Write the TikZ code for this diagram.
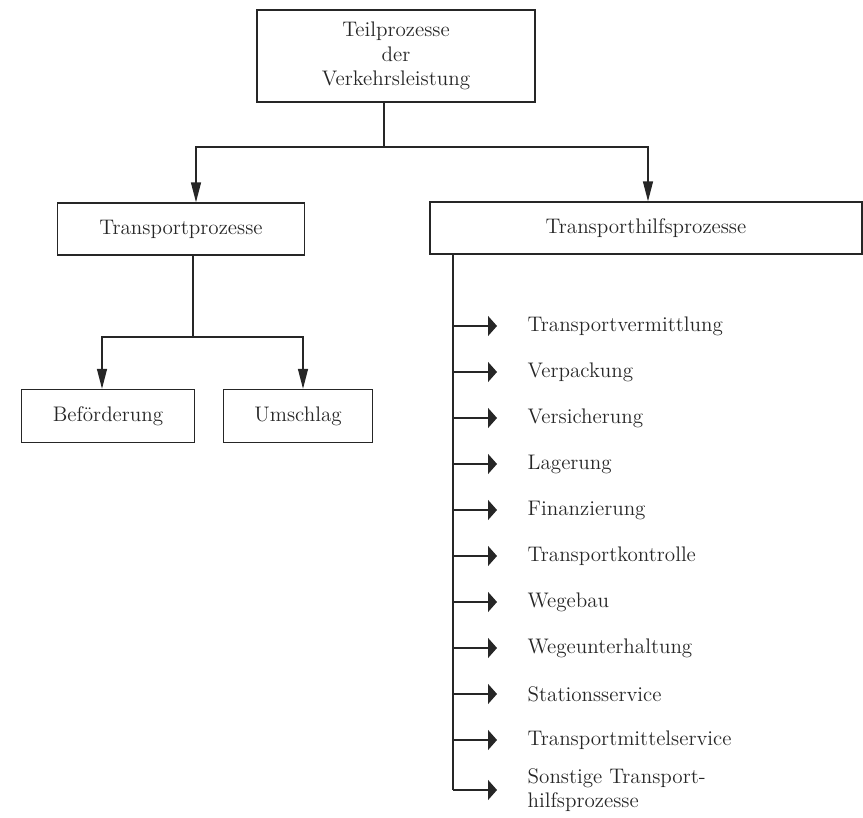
\documentclass[tikz,border=0pt]{standalone}
\usepackage{tikz}
\usetikzlibrary{positioning, arrows.meta, calc}

\begin{document}
\begin{tikzpicture}[x=0.02cm, y=-0.02cm, font=\large, line width=0.8pt, draw=black!85,
    box/.style={draw, inner sep=0pt, text=black!85},
    item/.style={anchor=west, inner sep=0pt, text=black!85},
    down/.style={-{Triangle[length=0.4cm, width=0.2cm]}},
    side/.style={-{Triangle[length=0.18cm, width=0.4cm]}}]
  \useasboundingbox (0,0) rectangle (863,818);
  % Boxes
  \node[box, minimum width=5.56cm, minimum height=1.84cm, align=center] (top) at (396,56)
    {Teilprozesse\\der\\Verkehrsleistung};
  \node[box, minimum width=4.94cm, minimum height=1.04cm] (tp) at (181,229) {Transportprozesse};
  \node[box, minimum width=8.64cm, minimum height=1.04cm] (thp) at (646,228) {Transporthilfsprozesse};
  \node[box, minimum width=3.46cm, minimum height=1.06cm] (bef) at (108,416) {Beförderung};
  \node[box, minimum width=2.98cm, minimum height=1.06cm] (ums) at (298,416) {Umschlag};
  % Top split
  \coordinate (split) at (384,147);
  \draw (top.south -| split) -- (split);
  \draw[down] (split) -| ([xshift=0.3cm]tp.north);
  \draw[down] (split) -| ([xshift=0.04cm]thp.north);
  % Transport split
  \coordinate (tsplit) at (193,337);
  \draw (tp.south -| tsplit) -- (tsplit);
  \draw[down] (tsplit) -| ([xshift=-0.12cm]bef.north);
  \draw[down] (tsplit) -| ([xshift=0.1cm]ums.north);
  % List
  \coordinate (rail) at (453,254);
  \foreach \i/\y/\txt in {
    1/326/Transportvermittlung,
    2/372/Verpackung,
    3/418/Versicherung,
    4/464/Lagerung,
    5/510/Finanzierung,
    6/556/Transportkontrolle,
    7/602/Wegebau,
    8/648/Wegeunterhaltung,
    9/694/Stationsservice,
    10/740/Transportmittelservice}{
    \node[item] (it\i) at (527,\y) {\txt};
    \draw[side] (rail |- it\i) -- ([xshift=-0.6cm]it\i.west);
  }
  \node[item, align=left] (it11) at (527,790) {Sonstige Transport-\\hilfsprozesse};
  \draw[side] (rail |- it11) -- ([xshift=-0.6cm]it11.west);
  \draw (thp.south -| rail) -- (rail |- it11);
\end{tikzpicture}
\end{document}
